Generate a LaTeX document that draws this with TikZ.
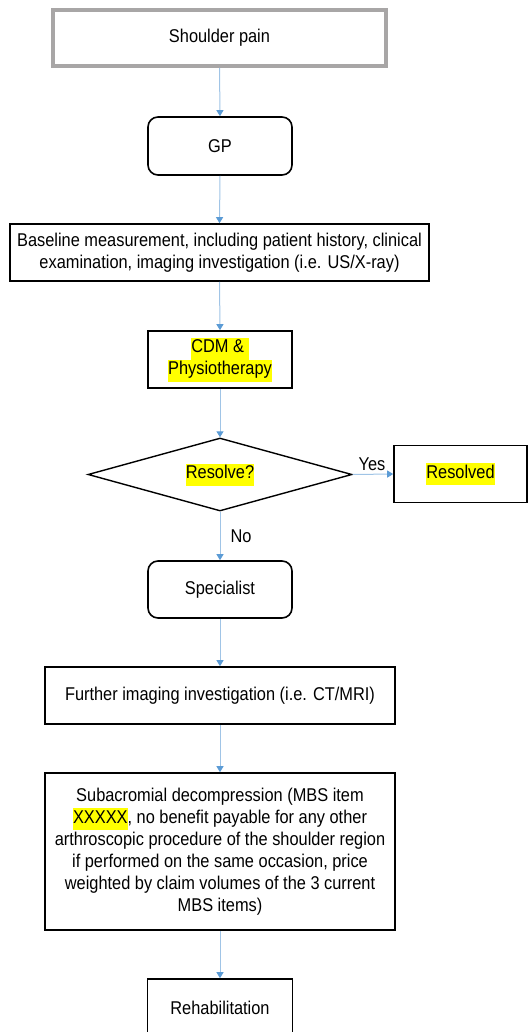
\documentclass[tikz,border=0pt]{standalone}
\usepackage{fontspec}
\setmainfont{Liberation Sans}[FakeStretch=0.885]
\usetikzlibrary{shapes.geometric,arrows.meta}
\definecolor{arrline}{RGB}{160,196,230}
\definecolor{arrtip}{RGB}{91,155,213}
\definecolor{greyframe}{RGB}{168,166,166}
\definecolor{hlyellow}{RGB}{255,255,0}
\newcommand{\hlt}[1]{{\setlength{\fboxsep}{0pt}\colorbox{hlyellow}{\strut #1}}}
\tikzset{
  txt/.style={font=\fontsize{18.5}{22}\selectfont, align=center, inner sep=0pt},
  box/.style={txt, draw=black, line width=1.6pt, rectangle},
  rbox/.style={box, rounded corners=10pt},
  greybox/.style={txt, draw=greyframe, line width=4pt, rectangle},
  decision/.style={txt, draw=black, line width=1.4pt, diamond, aspect=3.6},
  flow/.style={draw=arrline, line width=1pt, -{Triangle[width=7pt,length=6pt,color=arrtip]}},
  lbl/.style={font=\fontsize{18.5}{22}\selectfont, inner sep=0pt}
}
\begin{document}
\begin{tikzpicture}[x=1pt,y=-1pt]
\useasboundingbox (0,0) rectangle (528,1032);
\node[greybox, minimum width=333pt, minimum height=56pt] (pain) at (219.5,38) {Shoulder pain};
\node[rbox, minimum width=144pt, minimum height=58pt] (gp) at (220,146) {GP};
\node[box, minimum width=419pt, minimum height=57pt] (base) at (219.5,252.5)
  {Baseline measurement, including patient history, clinical\\examination, imaging investigation (i.e. US/X-ray)};
\node[box, minimum width=144pt, minimum height=57pt] (cdm) at (220,359.5)
  {\hlt{CDM \& }\\\hlt{Physiotherapy}};
\node[decision, minimum width=264pt, minimum height=73pt] (dec) at (220,474.5) {\hlt{Resolve?}};
\node[box, minimum width=133pt, minimum height=57pt] (res) at (460.5,474) {\hlt{Resolved}};
\node[rbox, minimum width=144pt, minimum height=57pt] (spec) at (220,589.5) {Specialist};
\node[box, minimum width=350pt, minimum height=57pt] (fur) at (220,695.5)
  {Further imaging investigation (i.e. CT/MRI)};
\node[box, minimum width=350pt, minimum height=157pt] (sub) at (220,851.5)
  {Subacromial decompression (MBS item\\\hlt{XXXXX}, no benefit payable for any other\\arthroscopic procedure of the shoulder region\\if performed on the same occasion, price\\weighted by claim volumes of the 3 current\\MBS items)};
\node[box, minimum width=145pt, minimum height=58pt] (rehab) at (220,1008) {Rehabilitation};

\draw[flow] (pain.south) -- (gp.north);
\draw[flow] (gp.south) -- (base.north);
\draw[flow] (base.south) -- (cdm.north);
\draw[flow] (cdm.south) -- (dec.north);
\draw[flow] (dec.east) -- (res.west);
\draw[flow] (dec.south) -- (spec.north);
\draw[flow] (spec.south) -- (fur.north);
\draw[flow] (fur.south) -- (sub.north);
\draw[flow] (sub.south) -- (rehab.north);

\node[lbl] (yes) at (372,464) {Yes};
\node[lbl] (no) at (241,536) {No};
\end{tikzpicture}
\end{document}
